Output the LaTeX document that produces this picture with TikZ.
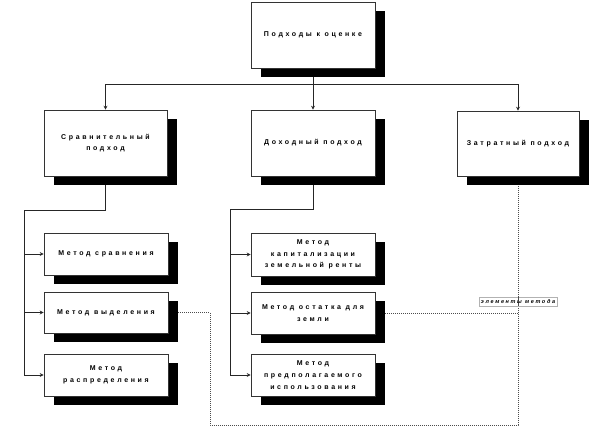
\documentclass[tikz,border=0pt]{standalone}
\usepackage{fontspec}
\usetikzlibrary{shadows,backgrounds,arrows.meta}
\newfontfamily\boxfont[LetterSpace=38]{Liberation Sans}
\newfontfamily\lblfont[LetterSpace=30]{Liberation Sans}
\begin{document}
\begin{tikzpicture}[x=1pt,y=-1pt,
  box/.style={draw=black!80, line width=0.6pt, fill=white, align=center,
    font=\boxfont\bfseries\fontsize{7}{11.8}\selectfont, inner sep=1pt,
    drop shadow={opacity=1, fill=black, shadow xshift=10pt, shadow yshift=-9pt}},
  bigbox/.style={box, minimum width=124pt, minimum height=66pt},
  smallbox/.style={box, minimum width=124pt, minimum height=42pt},
  conn/.style={draw=black!85, line width=0.7pt},
  arr/.style={conn, -{Stealth[length=4pt,width=4pt]}},
  dotline/.style={draw=black!70, line width=1pt, densely dotted},
  lbl/.style={draw=black!30, line width=0.4pt, inner sep=1pt, minimum width=78pt, minimum height=9pt,
    font=\lblfont\bfseries\itshape\fontsize{5.5}{6}\selectfont}]
\useasboundingbox (0,0) rectangle (597,436);
% boxes
\node[bigbox] (top) at (313,35) {Подходы к оценке};
\node[bigbox, minimum width=123pt] (srav) at (105.5,143) {Сравнительный\\подход};
\node[bigbox] (dohod) at (313,143) {Доходный подход};
\node[bigbox, minimum width=122pt, minimum height=65pt] (zatr) at (518,143.5) {Затратный подход};
\node[smallbox] (m1) at (106,254) {Метод сравнения};
\node[smallbox, minimum height=41pt] (m2) at (106,312.5) {Метод выделения};
\node[smallbox] (m3) at (106,375) {Метод\\распределения};
\node[smallbox, minimum height=43pt] (d1) at (313,254.5) {Метод\\капитализации\\земельной ренты};
\node[smallbox] (d2) at (313,313) {Метод остатка для\\земли};
\node[smallbox] (d3) at (313,375) {Метод\\предполагаемого\\использования};
% coordinates
\coordinate (bus) at (313,84);
\coordinate (sl) at (24,210);
\coordinate (ml) at (230,209);
\coordinate (dA) at (210,425);
\coordinate (dB) at (518,425);
\begin{scope}[on background layer]
  \draw[conn] (top) -- (bus);
  \draw[arr] (bus) -| (srav);
  \draw[arr] (bus) -| (zatr);
  \draw[arr] (bus) -- (dohod);
  \draw[conn] (srav.south) |- (sl);
  \draw[arr] (sl) |- (m1);
  \draw[arr] (sl) |- (m2);
  \draw[arr] (sl) |- (m3);
  \draw[conn] (dohod.south) |- (ml);
  \draw[arr] (ml) |- (d1);
  \draw[arr] (ml) |- (d2);
  \draw[arr] (ml) |- (d3);
  \draw[dotline] (m2.east) -| (dA) -- (dB) -- (zatr.south);
  \draw[dotline] (d2.east) -- (d2.east -| dB);
\end{scope}
\node[lbl] (elem) at (518,301.5) {элементы метода};
\draw[dotline] (elem.north) -- (elem.south);
\end{tikzpicture}
\end{document}
